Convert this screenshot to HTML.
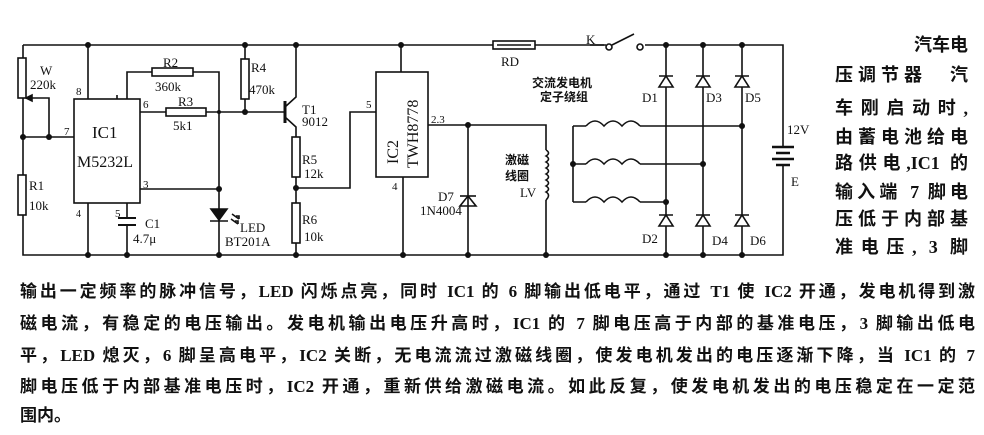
<!DOCTYPE html>
<html><head><meta charset="utf-8"><style>
body{margin:0;background:#fff;width:984px;height:435px;overflow:hidden;position:relative;font-family:"Liberation Serif","Noto Serif CJK SC",serif;color:#111}
svg{position:absolute;left:0;top:0}
.r{position:absolute;left:835px;width:133px;font-size:18px;line-height:20px;text-align:justify;text-align-last:justify;font-family:"Liberation Serif","Noto Sans CJK SC",sans-serif;font-weight:bold;white-space:nowrap}
.b{position:absolute;left:20px;width:955px;font-size:17px;line-height:20px;text-align:justify;text-align-last:justify;font-family:"Liberation Serif","Noto Sans CJK SC",sans-serif;font-weight:bold;white-space:nowrap}
</style></head><body>
<svg width="984" height="435" viewBox="0 0 984 435" font-family="Liberation Serif, serif" font-size="13" fill="none" stroke="#111" stroke-width="1.6">
<path d="M23 45H493M535 45H604M645 45H783V147M783 166V255H23V45"/>
<rect x="18" y="58" width="8" height="40" fill="#fff"/>
<rect x="18" y="175" width="8" height="40" fill="#fff"/>
<path d="M26 98H49V137M23 137H74M88 45V99M88 203V255"/>
<path d="M26 98l6-3v6z" fill="#111"/>
<rect x="74" y="99" width="66" height="104"/>
<path d="M127 99V72H152M193 72H219V255M140 112H166M206 112H285M245 45V59M245 99V112M140 189H219M127 203V218M127 225V255M117 99v-4"/>
<rect x="152" y="68" width="41" height="8" fill="#fff"/>
<rect x="166" y="108" width="40" height="8" fill="#fff"/>
<rect x="241" y="59" width="8" height="40" fill="#fff"/>
<path d="M118 218H136M118 225H136" stroke-width="2"/>
<path d="M211 209H227L219 220Z" fill="#111"/><path d="M210 221H228"/>
<path d="M232 214l7 5M231 219l7 5M239 219v-3h-3M238 224v-3h-3"/>
<path d="M285 101V123" stroke-width="3"/>
<path d="M285 107L296 97V45M285 117L296 127V137"/>
<rect x="292" y="137" width="8" height="40" fill="#fff"/>
<rect x="292" y="203" width="8" height="40" fill="#fff"/>
<path d="M296 177V203M296 243V255M296 188H350V112H376"/>
<rect x="376" y="72" width="52" height="105"/>
<path d="M401 45V72M403 177V255M428 125H546V150M546 200V255M468 125V255"/>
<path d="M546 150q5 3 0 6q5 3 0 6q5 3 0 6q5 3 0 6q5 3 0 6q5 3 0 6q5 3 0 6q5 3 0 8"/>
<path d="M460 206H476L468 196Z"/><path d="M460 196H476"/>
<rect x="493" y="41" width="42" height="8"/><path d="M497 45H531"/>
<circle cx="609" cy="47" r="3" fill="#fff"/><circle cx="640" cy="47" r="3" fill="#fff"/>
<path d="M612 45L634 34M590 45H606"/>
<path d="M666 45V255M703 45V255M742 45V255"/>
<g fill="#fff"><path d="M659 87H673L666 76Z"/><path d="M696 87H710L703 76Z"/><path d="M735 87H749L742 76Z"/>
<path d="M659 226H673L666 215Z"/><path d="M696 226H710L703 215Z"/><path d="M735 226H749L742 215Z"/></g>
<path d="M659 76H673M696 76H710M735 76H749M659 215H673M696 215H710M735 215H749"/>
<path d="M573 126V202M573 126H586M640 126H742M573 164H586M640 164H703M573 202H586M640 202H666"/>
<path d="M586 126q9-10 18 0q9-10 18 0q9-10 18 0M586 164q9-10 18 0q9-10 18 0q9-10 18 0M586 202q9-10 18 0q9-10 18 0q9-10 18 0"/>
<path d="M772 147H794M776 153H790M772 159H794M776 165H790" stroke-width="2.5"/>
<g fill="#111" stroke="none">
<circle cx="88" cy="45" r="3"/><circle cx="245" cy="45" r="3"/><circle cx="296" cy="45" r="3"/><circle cx="401" cy="45" r="3"/>
<circle cx="23" cy="137" r="3"/><circle cx="49" cy="137" r="3"/><circle cx="219" cy="112" r="2"/><circle cx="245" cy="112" r="3"/>
<circle cx="219" cy="189" r="3"/><circle cx="296" cy="188" r="3"/><circle cx="468" cy="125" r="3"/>
<circle cx="88" cy="255" r="3"/><circle cx="127" cy="255" r="3"/><circle cx="219" cy="255" r="3"/><circle cx="296" cy="255" r="3"/><circle cx="403" cy="255" r="3"/><circle cx="468" cy="255" r="3"/><circle cx="546" cy="255" r="3"/>
<circle cx="666" cy="45" r="3"/><circle cx="703" cy="45" r="3"/><circle cx="742" cy="45" r="3"/>
<circle cx="742" cy="126" r="3"/><circle cx="703" cy="164" r="3"/><circle cx="666" cy="202" r="3"/><circle cx="573" cy="164" r="3"/>
<circle cx="666" cy="255" r="3"/><circle cx="703" cy="255" r="3"/><circle cx="742" cy="255" r="3"/>
<text x="40" y="75">W</text><text x="30" y="89">220k</text><text x="76" y="95" font-size="11">8</text><text x="64" y="135" font-size="11">7</text>
<text x="29" y="190">R1</text><text x="29" y="210">10k</text><text x="76" y="217" font-size="10">4</text>
<text x="92" y="138" font-size="17">IC1</text><text x="77" y="167" font-size="16">M5232L</text>
<text x="143" y="108" font-size="11">6</text><text x="143" y="188" font-size="11">3</text><text x="115" y="217" font-size="11">5</text>
<text x="163" y="67">R2</text><text x="155" y="91">360k</text><text x="178" y="106">R3</text><text x="173" y="130">5k1</text>
<text x="251" y="72">R4</text><text x="249" y="94">470k</text><text x="302" y="114">T1</text><text x="302" y="126">9012</text>
<text x="145" y="228">C1</text><text x="133" y="243">4.7μ</text><text x="240" y="232">LED</text><text x="225" y="246">BT201A</text>
<text x="302" y="164">R5</text><text x="304" y="178">12k</text><text x="302" y="224">R6</text><text x="304" y="241">10k</text>
<text x="366" y="108" font-size="11">5</text><text x="431" y="123" font-size="11">2.3</text><text x="392" y="190" font-size="11">4</text>
<text x="438" y="201">D7</text><text x="420" y="215">1N4004</text>
<text x="0" y="0" font-size="16" transform="translate(398 164) rotate(-90)">IC2</text>
<text x="0" y="0" font-size="16" transform="translate(418 168) rotate(-90)">TWH8778</text>
<text x="501" y="66">RD</text><text x="586" y="44">K</text>
<text x="642" y="102">D1</text><text x="706" y="102">D3</text><text x="745" y="102">D5</text>
<text x="642" y="243">D2</text><text x="712" y="245">D4</text><text x="750" y="245">D6</text>
<text x="787" y="134">12V</text><text x="791" y="186">E</text><text x="520" y="197">LV</text>
<text x="532" y="87" font-size="12" font-family="Noto Sans CJK SC, sans-serif" font-weight="bold">交流发电机</text>
<text x="540" y="101" font-size="12" font-family="Noto Sans CJK SC, sans-serif" font-weight="bold">定子绕组</text>
<text x="505" y="164" font-size="12" font-family="Noto Sans CJK SC, sans-serif" font-weight="bold">激磁</text>
<text x="505" y="180" font-size="12" font-family="Noto Sans CJK SC, sans-serif" font-weight="bold">线圈</text>
</g>
</svg>
<div class="r" style="top:35px;text-align:right;text-align-last:right">汽车电</div>
<div class="r" style="top:65px">压调节器　汽</div>
<div class="r" style="top:98px">车刚启动时,</div>
<div class="r" style="top:127px">由蓄电池给电</div>
<div class="r" style="top:153px">路供电,IC1 的</div>
<div class="r" style="top:182px">输入端 7 脚电</div>
<div class="r" style="top:209px">压低于内部基</div>
<div class="r" style="top:237px">准电压, 3 脚</div>
<div class="b" style="top:282px">输出一定频率的脉冲信号，LED 闪烁点亮，同时 IC1 的 6 脚输出低电平，通过 T1 使 IC2 开通，发电机得到激</div>
<div class="b" style="top:314px">磁电流，有稳定的电压输出。发电机输出电压升高时，IC1 的 7 脚电压高于内部的基准电压，3 脚输出低电</div>
<div class="b" style="top:346px">平，LED 熄灭，6 脚呈高电平，IC2 关断，无电流流过激磁线圈，使发电机发出的电压逐渐下降，当 IC1 的 7</div>
<div class="b" style="top:377px">脚电压低于内部基准电压时，IC2 开通，重新供给激磁电流。如此反复，使发电机发出的电压稳定在一定范</div>
<div class="b" style="top:406px;text-align-last:left">围内。</div>
</body></html>
